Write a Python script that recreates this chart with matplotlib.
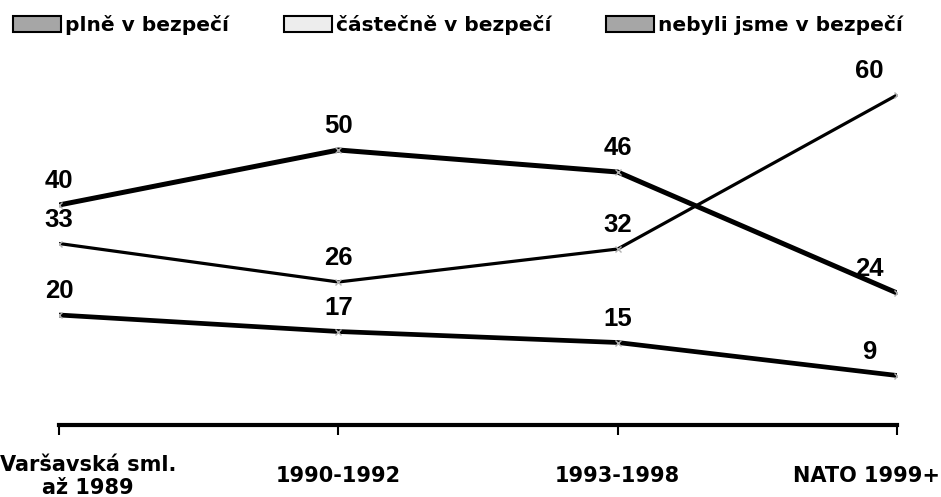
import matplotlib
matplotlib.use("Agg")
from matplotlib import pyplot as plt
from matplotlib.patches import Patch
import matplotlib.transforms as mtransforms
import numpy as np

categories = ["Varšavská sml.\naž 1989", "1990-1992", "1993-1998", "NATO 1999+"]
series_names = ["plně v bezpečí", "částečně v bezpečí", "nebyli jsme v bezpečí"]
plne = [33, 26, 32, 60]
castecne = [40, 50, 46, 24]
nebyli = [20, 17, 15, 9]

legend_colors = ["#a6a6a6", "#ededed", "#a6a6a6"]
line_widths = [2.3, 3.6, 3.4]

fig = plt.figure(figsize=(9.41, 4.97), dpi=100)
ax = fig.add_axes([59 / 941, 1 - 425 / 497, (897 - 59) / 941, (425 - 40) / 497])

x = np.arange(len(categories))
for values, lw in zip([plne, castecne, nebyli], line_widths):
    ax.plot(x, values, color="black", lw=lw, solid_capstyle="butt",
            marker="x", ms=4, mec="#b0b0b0", mew=1, zorder=3)
    for i, v in enumerate(values):
        dx = -28 if i == len(values) - 1 else 0
        ax.annotate(str(v), (x[i], v), xytext=(dx * 0.72, 17), textcoords="offset points",
                    ha="center", va="center", fontsize=18.5, fontweight="bold",
                    family="Liberation Sans", clip_on=False)

ax.set_xlim(0, 3)
ax.set_ylim(0, 70)
ax.set_xticks(x)
ax.set_xticklabels(categories, fontsize=15, fontweight="bold", linespacing=1.2)
ax.tick_params(axis="x", direction="out", length=7, width=1.5, pad=30)
ax.tick_params(axis="y", left=False, labelleft=False)
for side in ["left", "right", "top"]:
    ax.spines[side].set_visible(False)
ax.spines["bottom"].set_linewidth(3)

# keep the end labels inside the picture, like the original
labels = ax.get_xticklabels()
for lab in labels:
    lab.set_va("center")
    lab.set_multialignment("center")
labels[0].set_ha("left")
labels[0].set_transform(labels[0].get_transform() +
                        mtransforms.ScaledTranslation(-59 / 100, 0, fig.dpi_scale_trans))
labels[-1].set_ha("right")
labels[-1].set_transform(labels[-1].get_transform() +
                         mtransforms.ScaledTranslation(43 / 100, 0, fig.dpi_scale_trans))

handles = [Patch(facecolor=c, edgecolor="black", lw=1.5, label=n)
           for c, n in zip(legend_colors, series_names)]
fig.legend(handles=handles, loc="center left", bbox_to_anchor=(13 / 941, 1 - 25 / 497), ncol=3,
           frameon=False, prop={"size": 14.5, "weight": "bold"}, borderpad=0, borderaxespad=0,
           handlelength=2.39, handleheight=0.8, handletextpad=0.2, columnspacing=2.7)

plt.savefig("out.png", dpi=100)
